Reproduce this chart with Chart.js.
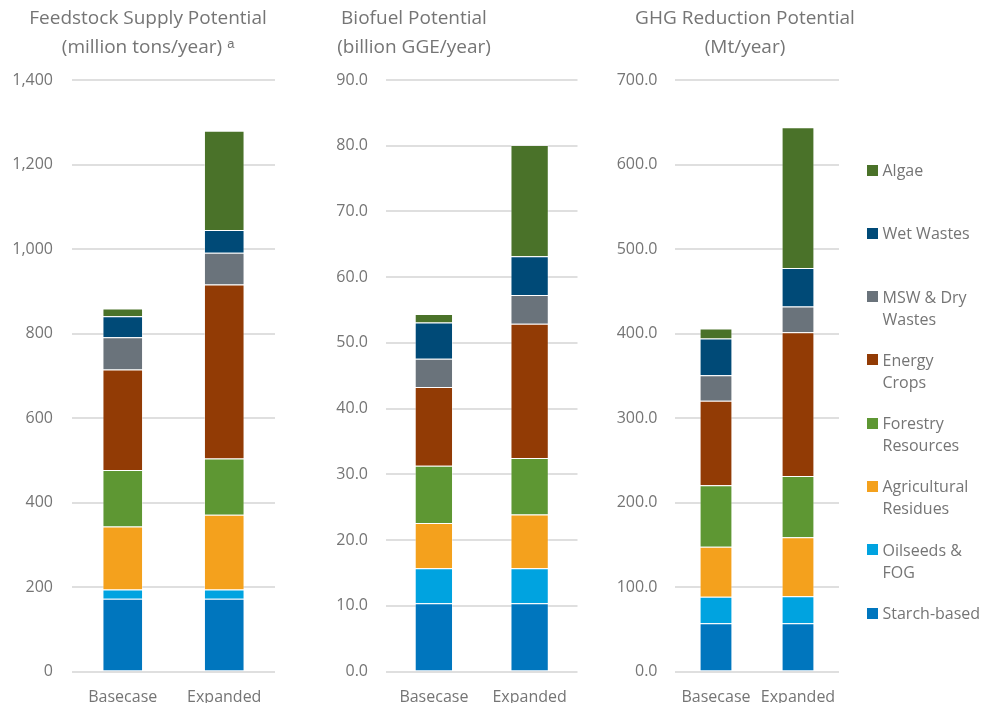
<!DOCTYPE html>
<html lang="en">
<head>
    <meta charset="UTF-8">
    <title>Bioenergy Potential by Feedstock</title>
    <script src="https://cdn.jsdelivr.net/npm/chart.js@4.4.1/dist/chart.umd.min.js"></script>
    <style>
        body { margin: 0; background: #fff; font-family: 'Open Sans', sans-serif; }
        #wrap { position: relative; width: 981px; height: 703px; overflow: hidden; }
        #wrap canvas { position: absolute; top: 0; }
        #legend { position: absolute; left: 867px; top: 159px; width: 114px; }
        .item { position: relative; height: 63.3px; color: #757575; font-size: 16px; line-height: 22px; }
        .item .box { position: absolute; left: 0; top: 5.5px; width: 11px; height: 11px; }
        .item .txt { position: absolute; left: 15.5px; top: 0; width: 97.8px; }
    </style>
</head>
<body>
<div id="wrap">
    <canvas id="feedstock" width="296" height="703" style="left:0px"></canvas>
    <canvas id="biofuel" width="328" height="703" style="left:250px"></canvas>
    <canvas id="ghg" width="266" height="703" style="left:612px"></canvas>
    <div id="legend"></div>
</div>

<script>
    const categories = ['Basecase', 'Expanded'];

    // stacking order, bottom to top
    const seriesNames = ['Starch-based', 'Oilseeds & FOG', 'Agricultural Residues', 'Forestry Resources',
        'Energy Crops', 'MSW & Dry Wastes', 'Wet Wastes', 'Algae'];
    const seriesColors = ['#0076BE', '#00A3E0', '#F4A11D', '#5E9733', '#923B05', '#6A737B', '#004A77', '#4A7229'];

    // million tons/year
    const feedstockBase = [172, 22, 149, 134, 238, 76, 50, 18];
    const feedstockExpanded = [172, 22, 177, 133, 412, 75, 54, 235];

    // billion GGE/year
    const biofuelBase = [10.4, 5.3, 6.9, 8.7, 12.0, 4.3, 5.5, 1.3];
    const biofuelExpanded = [10.4, 5.3, 8.2, 8.6, 20.4, 4.4, 5.9, 16.9];

    // Mt/year
    const ghgBase = [57, 31.5, 59, 73, 100, 30, 43.5, 12];
    const ghgExpanded = [57, 32, 70, 72.5, 170, 30.5, 45.5, 166.5];

    const TEXT = '#757575';
    const FONT = "'Open Sans', sans-serif";

    function makeChart(id, title, base, expanded, yMax, yStep, fmt, axisWidth, padRight, labelGap) {
        const datasets = seriesNames.map((name, i) => ({
            label: name,
            data: [base[i], expanded[i]],
            backgroundColor: seriesColors[i],
            borderColor: 'rgba(255,255,255,0.4)',
            borderWidth: 1,
            barPercentage: 0.4,
            categoryPercentage: 1.0
        }));

        return new Chart(document.getElementById(id), {
            type: 'bar',
            data: { labels: categories, datasets: datasets },
            options: {
                responsive: false,
                animation: false,
                layout: { padding: 0 },
                plugins: {
                    legend: { display: false },
                    tooltip: { enabled: false },
                    title: {
                        display: true,
                        text: title,
                        color: TEXT,
                        font: { family: FONT, size: 19, weight: 'normal', lineHeight: 1.48 },
                        padding: { top: 5, bottom: 18.8 }
                    }
                },
                scales: {
                    x: {
                        stacked: true,
                        grid: { display: false },
                        border: { display: false },
                        ticks: { color: TEXT, font: { family: FONT, size: 16 }, padding: 8.5 },
                        afterFit: s => { s.height = 31.5; }
                    },
                    y: {
                        stacked: true,
                        min: 0,
                        max: yMax,
                        border: { display: false },
                        grid: { color: '#dfdfdf', lineWidth: 2, drawTicks: false },
                        ticks: {
                            stepSize: yStep,
                            color: TEXT,
                            font: { family: FONT, size: 16 },
                            padding: labelGap,
                            callback: fmt
                        },
                        afterFit: s => { s.width = axisWidth; }
                    },
                    // empty space to the right of the plot
                    pad: {
                        type: 'linear',
                        position: 'right',
                        display: true,
                        grid: { display: false },
                        border: { display: false },
                        ticks: { display: false },
                        afterFit: s => { s.width = padRight; }
                    }
                }
            }
        });
    }

    makeChart('feedstock', ['Feedstock Supply Potential', '(million tons/year) \u1D43'],
        feedstockBase, feedstockExpanded, 1400, 200,
        v => v.toLocaleString('en-US'), 72, 21, 19);

    makeChart('biofuel', ['Biofuel Potential', '(billion GGE/year)'],
        biofuelBase, biofuelExpanded, 90, 10,
        v => v.toFixed(1), 136, 0.5, 18);

    makeChart('ghg', ['GHG Reduction Potential', '(Mt/year)'],
        ghgBase, ghgExpanded, 700, 100,
        v => v.toFixed(1), 63, 39, 17.5);

    // legend, top entry is the top of the stack
    const legend = document.getElementById('legend');
    for (let i = seriesNames.length - 1; i >= 0; i--) {
        const item = document.createElement('div');
        item.className = 'item';
        item.innerHTML = '<span class="box" style="background:' + seriesColors[i] + '"></span>' +
            '<span class="txt"></span>';
        item.querySelector('.txt').textContent = seriesNames[i];
        legend.appendChild(item);
    }
</script>
</body>
</html>
